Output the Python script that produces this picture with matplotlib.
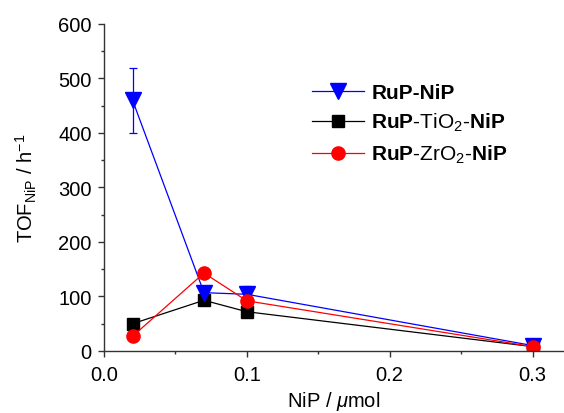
import numpy as np
import matplotlib
matplotlib.use("Agg")
import matplotlib.pyplot as plt

plt.rcParams['font.family'] = ['Liberation Sans', 'DejaVu Sans']
plt.rcParams['mathtext.fontset'] = 'custom'
plt.rcParams['mathtext.rm'] = 'Liberation Sans'
plt.rcParams['mathtext.it'] = 'Liberation Sans:italic'
plt.rcParams['mathtext.bf'] = 'Liberation Sans:bold'

# NiP loading (umol) and TOF (h^-1)
nip = [0.02, 0.07, 0.1, 0.3]

tof_nip = [460, 107, 104, 10]
err_nip = [60, 8, 15, 5]

tof_ti = [50, 93, 72, 8]
err_ti = [3, 5, 9, 3]

tof_zr = [27, 143, 92, 8]
err_zr = [3, 4, 25, 3]

fig = plt.figure(figsize=(5.64, 4.14), dpi=100)
ax = fig.add_axes([0.1844, 0.1498, 0.814, 0.790])

lw = 0.9
h_ti = ax.errorbar(nip, tof_ti, yerr=err_ti, c="black", lw=lw, marker="s", ms=8,
                   capsize=3, elinewidth=lw, capthick=lw)
h_nip = ax.errorbar(nip, tof_nip, yerr=err_nip, c="blue", lw=lw, marker="v", ms=11,
                    capsize=3, elinewidth=lw, capthick=lw)
h_zr = ax.errorbar(nip, tof_zr, yerr=err_zr, c="red", lw=lw, marker="o", ms=9.5,
                   capsize=3, elinewidth=lw, capthick=lw)

ax.set_xlim(0, 0.3214)
ax.set_ylim(0, 600)
ax.set_xticks([0.0, 0.1, 0.2, 0.3])
ax.set_xticks([0.05, 0.15, 0.25], minor=True)
ax.set_yticks(np.arange(0, 601, 100))
ax.set_yticks(np.arange(50, 600, 100), minor=True)
ax.set_xticklabels(["0.0", "0.1", "0.2", "0.3"])

for s in ["top", "right"]:
    ax.spines[s].set_visible(False)
for s in ["left", "bottom"]:
    ax.spines[s].set_color("#333333")
    ax.spines[s].set_linewidth(1.0)

ax.tick_params(which="major", direction="out", length=4, width=1.0, color="#333333",
               labelsize=14.5, pad=5)
ax.tick_params(axis="x", which="major", pad=6)
ax.tick_params(which="minor", direction="out", length=2, width=1.0, color="#333333")

ax.set_xlabel(r"NiP / $\mu$mol", fontsize=14.5, labelpad=4)
ax.set_ylabel(r"TOF$_{\mathrm{NiP}}$ / h$^{-1}$", fontsize=14.5, labelpad=14)

labels = ["RuP-NiP",
          r"$\mathbf{RuP}$-TiO$_2$-$\mathbf{NiP}$",
          r"$\mathbf{RuP}$-ZrO$_2$-$\mathbf{NiP}$"]
leg = ax.legend([h_nip[0], h_ti[0], h_zr[0]], labels, frameon=False, fontsize=15,
                loc="upper left", bbox_to_anchor=(0.453, 0.82), borderaxespad=0,
                borderpad=0, handlelength=2.5, handletextpad=0.35, labelspacing=0.45)
leg.get_texts()[0].set_fontweight("bold")

fig.savefig("out.png", dpi=100)
